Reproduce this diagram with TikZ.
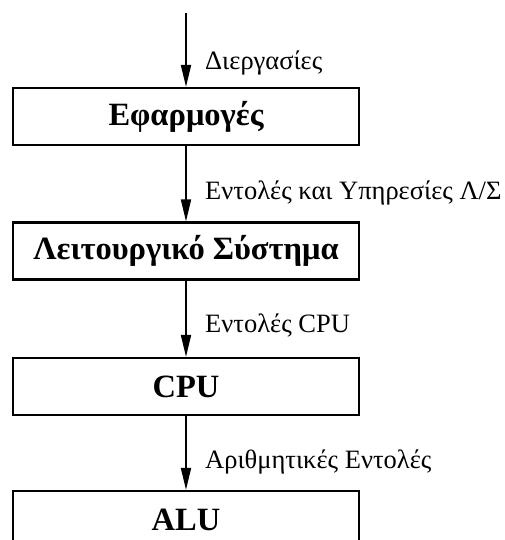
\documentclass[tikz,border=0pt]{standalone}
\usepackage{fontspec}
\setmainfont{Liberation Serif}
\usetikzlibrary{arrows.meta}
\begin{document}
\begin{tikzpicture}[x=1pt,y=-1pt,
  layer/.style={draw, line width=2.2pt, minimum width=346pt, minimum height=57pt,
    inner sep=0pt, font=\fontsize{32.5}{36}\selectfont\bfseries},
  flow/.style={line width=1.8pt, -{Triangle[length=22pt,width=10pt]}},
  tag/.style={anchor=west, inner sep=0pt, font=\fontsize{26.5}{30}\selectfont}]
  \useasboundingbox (0,0) rectangle (504,540);

  % stacked layers
  \node[layer] (app) at (186,116.5) {Εφαρμογές};
  \node[layer] (os)  at (186,251)   {Λειτουργικό Σύστημα};
  \node[layer] (cpu) at (186,386.5) {CPU};
  \node[layer] (alu) at (186,519.5) {ALU};

  % flow between layers
  \coordinate (top) at (186,13);
  \draw[flow] (top) -- (app.north);
  \draw[flow] (app.south) -- (os.north);
  \draw[flow] (os.south) -- (cpu.north);
  \draw[flow] (cpu.south) -- (alu.north);

  % labels beside the arrows
  \node[tag] (t1) at (205,63)  {Διεργασίες};
  \node[tag] (t2) at (205,193) {Εντολές και Υπηρεσίες Λ/Σ};
  \node[tag] (t3) at (205,325) {Εντολές CPU};
  \node[tag] (t4) at (205,462) {Αριθμητικές Εντολές};
\end{tikzpicture}
\end{document}
